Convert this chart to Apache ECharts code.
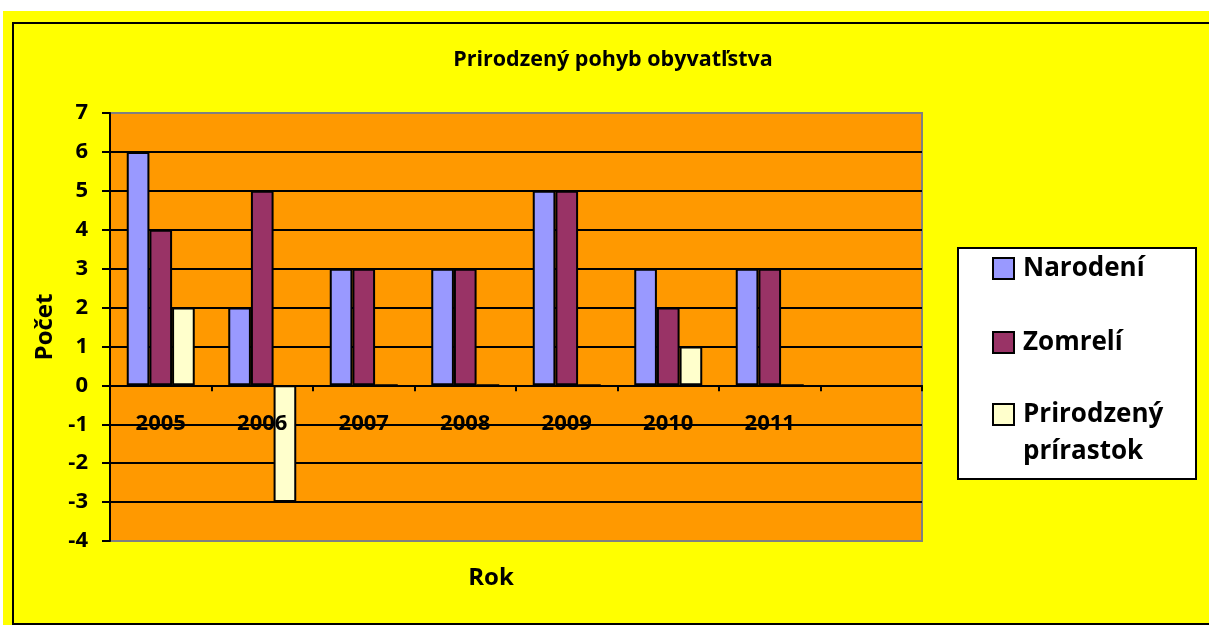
<!DOCTYPE html>
<html lang="sk">

<head>
    <meta charset="UTF-8" />
    <title>Prirodzený pohyb obyvatľstva</title>
    <script src="https://cdn.jsdelivr.net/npm/echarts@6/dist/echarts.min.js"></script>
    <style>
        html, body { margin: 0; padding: 0; background: #fff; overflow: hidden; }
    </style>
</head>

<body>
    <!-- žlté pozadie a rámček ako v Exceli -->
    <div style="position:absolute;left:3px;top:11px;width:1206px;height:614px;background:#FFFF00;"></div>
    <div style="position:absolute;left:12px;top:22px;width:1220px;height:599px;border:2px solid #000;"></div>
    <div id="graf" style="position:absolute;left:0;top:0;width:1209px;height:625px;"></div>
    <script type="text/javascript">
        // údaje
        var roky = ['2005', '2006', '2007', '2008', '2009', '2010', '2011', '']; // posledná kategória je prázdna
        var narodeni = [6, 2, 3, 3, 5, 3, 3];
        var zomreli = [4, 5, 3, 3, 5, 2, 3];
        var prirastok = [2, -3, 0, 0, 0, 1, 0];
        var nazvy = ['Narodení', 'Zomrelí', 'Prirodzený prírastok'];
        var farby = ['#9999FF', '#993366', '#FFFFCC'];

        var pismo = 'Open Sans';
        var chart = echarts.init(document.getElementById('graf'));

        var legendaText = {
            color: '#000',
            fontFamily: pismo,
            fontWeight: 'bold',
            fontSize: 26,
            lineHeight: 37,
            padding: [0, 0, 0, 4]
        };

        var option = {
            backgroundColor: 'transparent',
            title: {
                text: 'Prirodzený pohyb obyvatľstva',
                left: 608,
                top: 44,
                textAlign: 'center',
                textStyle: {
                    color: '#000',
                    fontFamily: pismo,
                    fontWeight: 'bold',
                    fontSize: 21.5
                }
            },
            // biely rámček legendy a popis osi x
            graphic: [{
                type: 'rect',
                z: 1,
                shape: { x: 958, y: 248, width: 238, height: 231 },
                style: { fill: '#fff', stroke: '#000', lineWidth: 2 }
            }, {
                type: 'text',
                z: 5,
                x: 491,
                y: 578,
                style: {
                    text: 'Rok',
                    fill: '#000',
                    font: 'bold 24px "Open Sans"',
                    align: 'center',
                    verticalAlign: 'middle'
                }
            }],
            legend: [{
                orient: 'vertical',
                left: 992,
                top: 250,
                data: [nazvy[0], nazvy[1]],
                icon: 'rect',
                itemWidth: 21,
                itemHeight: 21,
                itemGap: 37,
                padding: 0,
                itemStyle: { borderColor: '#000', borderWidth: 2 },
                textStyle: legendaText
            }, {
                orient: 'vertical',
                left: 992,
                top: 359,
                data: [nazvy[2]],
                icon: 'rect',
                itemWidth: 21,
                itemHeight: 21,
                padding: 0,
                itemStyle: { borderColor: '#000', borderWidth: 2 },
                formatter: function () {
                    // prázdny riadok hore, aby ikonka stála pri prvom riadku textu
                    return '\nPrirodzený\nprírastok';
                },
                textStyle: legendaText
            }],
            grid: {
                left: 110,
                right: 287,
                top: 113,
                bottom: 84,
                containLabel: false,
                outerBoundsMode: 'none',
                show: true,
                backgroundColor: '#FF9900',
                borderColor: '#808080',
                borderWidth: 2
            },
            xAxis: {
                type: 'category',
                data: roky,
                z: 10, // popisy rokov a os nad stĺpcami
                axisLine: {
                    onZero: true,
                    lineStyle: { color: '#000', width: 2 }
                },
                axisTick: {
                    show: true,
                    interval: 0,
                    length: 6,
                    lineStyle: { color: '#000', width: 2 }
                },
                axisLabel: {
                    interval: 0,
                    margin: -128,
                    color: '#000',
                    fontFamily: pismo,
                    fontWeight: 'bold',
                    fontSize: 22
                },
                splitLine: { show: false }
            },
            yAxis: {
                type: 'value',
                min: -4,
                max: 7,
                interval: 1,
                name: 'Počet',
                nameLocation: 'middle',
                nameGap: 53,
                nameTextStyle: {
                    color: '#000',
                    fontFamily: pismo,
                    fontWeight: 'bold',
                    fontSize: 24
                },
                axisLine: {
                    show: true,
                    lineStyle: { color: '#000', width: 2 }
                },
                axisTick: {
                    show: true,
                    length: 8,
                    lineStyle: { color: '#000', width: 2 }
                },
                axisLabel: {
                    margin: 22,
                    color: '#000',
                    fontFamily: pismo,
                    fontWeight: 'bold',
                    fontSize: 22
                },
                splitLine: {
                    show: true,
                    lineStyle: {
                        // krajné čiary sú sivý okraj plochy
                        color: ['#808080', '#000', '#000', '#000', '#000', '#000', '#000', '#000', '#000', '#000', '#000', '#808080'],
                        width: 2
                    }
                }
            },
            series: [{
                name: nazvy[0],
                data: narodeni
            }, {
                name: nazvy[1],
                data: zomreli
            }, {
                name: nazvy[2],
                data: prirastok
            }]
        };

        for (var i = 0; i < option.series.length; i++) {
            option.series[i].type = 'bar';
            option.series[i].barGap = '0%';
            option.series[i].barCategoryGap = '33%';
            option.series[i].itemStyle = {
                color: farby[i],
                borderColor: '#000',
                borderWidth: 2
            };
        }

        chart.setOption(option, true);
    </script>
</body>

</html>
